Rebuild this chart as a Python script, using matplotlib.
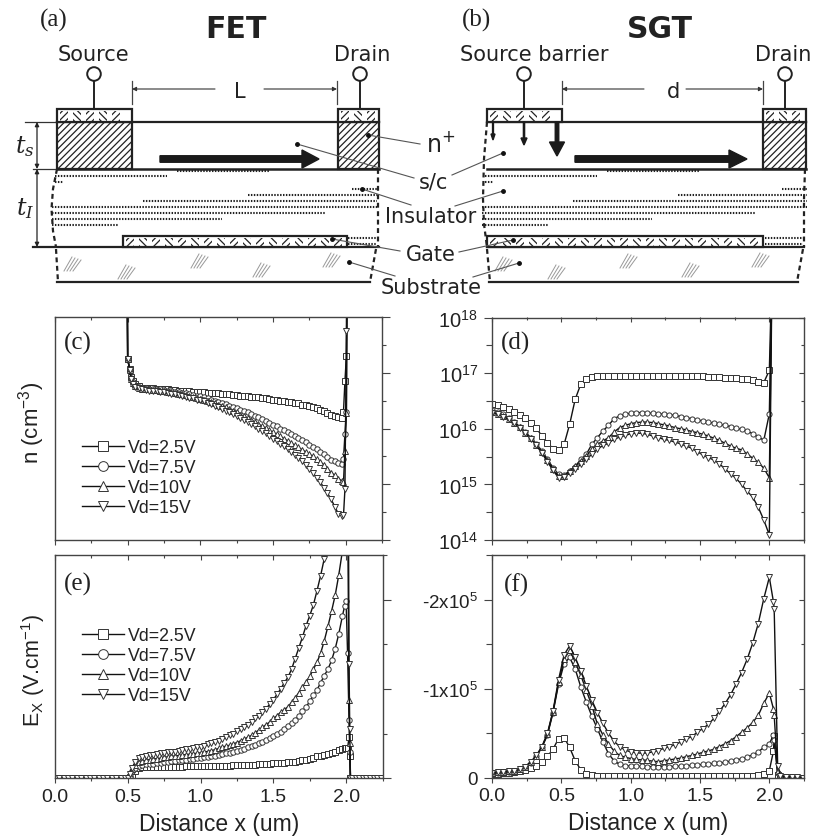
import numpy as np
import matplotlib
matplotlib.use("Agg")
import matplotlib.pyplot as plt
from matplotlib.patches import Rectangle, FancyArrow
from matplotlib.ticker import NullFormatter

plt.rcParams['font.family'] = ['Liberation Sans', 'DejaVu Sans']
plt.rcParams['mathtext.default'] = 'regular'
plt.rcParams['hatch.linewidth'] = 0.9

W, H = 815, 837
INK = "#222222"

VD_LABELS = ["Vd=2.5V", "Vd=7.5V", "Vd=10V", "Vd=15V"]
MARKERS = ["s", "o", "^", "v"]

# grid shared by panels (c) and (e), middle part in steps of 0.025 um
x_mid = [0.600, 0.625, 0.650, 0.675, 0.700, 0.725, 0.750, 0.775,
         0.800, 0.825, 0.850, 0.875, 0.900, 0.925, 0.950, 0.975,
         1.000, 1.025, 1.050, 1.075, 1.100, 1.125, 1.150, 1.175,
         1.200, 1.225, 1.250, 1.275, 1.300, 1.325, 1.350, 1.375,
         1.400, 1.425, 1.450, 1.475, 1.500, 1.525, 1.550, 1.575,
         1.600, 1.625, 1.650, 1.675, 1.700, 1.725, 1.750, 1.775,
         1.800, 1.825, 1.850, 1.875, 1.900, 1.925, 1.950, 1.975]

# panel (c): log10(n)
c_x = [0.497, 0.500, 0.514, 0.524, 0.535, 0.550, 0.575] + x_mid + [1.985, 1.995, 2.005, 2.010]
c_25 = [18.6, 17.25, 17.06, 16.92, 16.86, 16.80, 16.76,
        16.73, 16.73, 16.72, 16.72, 16.71, 16.71, 16.70, 16.70,
        16.69, 16.69, 16.68, 16.68, 16.67, 16.67, 16.66, 16.66,
        16.65, 16.65, 16.64, 16.64, 16.63, 16.63, 16.62, 16.62,
        16.61, 16.60, 16.60, 16.59, 16.58, 16.58, 16.57, 16.56,
        16.56, 16.55, 16.54, 16.53, 16.52, 16.51, 16.50, 16.49,
        16.48, 16.47, 16.46, 16.45, 16.43, 16.42, 16.40, 16.38,
        16.36, 16.34, 16.31, 16.28, 16.25, 16.22, 16.20, 16.19,
        16.30, 16.85, 17.30, 19.0]
c_75 = [18.6, 17.25, 17.06, 16.90, 16.83, 16.77, 16.74,
        16.72, 16.72, 16.71, 16.71, 16.70, 16.70, 16.69, 16.68,
        16.67, 16.66, 16.65, 16.64, 16.63, 16.62, 16.60, 16.59,
        16.58, 16.56, 16.54, 16.52, 16.50, 16.48, 16.46, 16.44,
        16.41, 16.39, 16.36, 16.34, 16.31, 16.29, 16.26, 16.23,
        16.20, 16.17, 16.14, 16.10, 16.07, 16.04, 16.00, 15.97,
        15.93, 15.90, 15.86, 15.83, 15.79, 15.75, 15.71, 15.67,
        15.63, 15.58, 15.54, 15.49, 15.44, 15.41, 15.38, 15.36,
        15.45, 15.90, 16.30, 19.0]
c_10 = [18.6, 17.25, 17.05, 16.89, 16.82, 16.76, 16.73,
        16.71, 16.70, 16.70, 16.69, 16.69, 16.68, 16.67, 16.66,
        16.65, 16.64, 16.62, 16.61, 16.60, 16.58, 16.57, 16.55,
        16.53, 16.51, 16.49, 16.47, 16.45, 16.42, 16.40, 16.38,
        16.35, 16.32, 16.29, 16.25, 16.22, 16.19, 16.15, 16.12,
        16.08, 16.04, 16.01, 15.97, 15.93, 15.90, 15.86, 15.82,
        15.78, 15.74, 15.70, 15.66, 15.62, 15.58, 15.54, 15.50,
        15.45, 15.40, 15.35, 15.28, 15.21, 15.16, 15.10, 15.06,
        15.04, 15.60, 16.27, 19.0]
c_15 = [18.6, 17.25, 17.05, 16.88, 16.80, 16.75, 16.72,
        16.70, 16.69, 16.68, 16.67, 16.67, 16.66, 16.65, 16.63,
        16.62, 16.61, 16.60, 16.58, 16.57, 16.55, 16.54, 16.52,
        16.51, 16.49, 16.46, 16.44, 16.41, 16.38, 16.35, 16.32,
        16.29, 16.26, 16.22, 16.19, 16.15, 16.12, 16.08, 16.04,
        16.00, 15.96, 15.92, 15.87, 15.82, 15.78, 15.73, 15.68,
        15.63, 15.58, 15.53, 15.47, 15.41, 15.35, 15.27, 15.20,
        15.12, 15.04, 14.94, 14.84, 14.73, 14.60, 14.47, 14.43,
        14.44, 14.91, 17.74, 19.0]

# panel (e): field magnitude in units of 1e5 V/cm
e_zero_left = [0.000, 0.030, 0.060, 0.090, 0.120, 0.150, 0.180, 0.210, 0.240, 0.270,
               0.300, 0.330, 0.360, 0.390, 0.420, 0.450, 0.480]
e_zero_right = [2.040, 2.065, 2.090, 2.115, 2.140, 2.165, 2.190, 2.215, 2.240]
e_x = e_zero_left + [0.500, 0.515, 0.530, 0.550, 0.575] + x_mid + [1.990, 2.000, 2.010, 2.020, 2.025, 2.030] + e_zero_right
e_25 = [0.0] * 17 + [0.0, 0.02, 0.04, 0.086, 0.115,
        0.122, 0.124, 0.125, 0.126, 0.127, 0.128, 0.129, 0.130,
        0.130, 0.131, 0.132, 0.132, 0.133, 0.134, 0.135, 0.135,
        0.136, 0.137, 0.138, 0.139, 0.140, 0.140, 0.141, 0.142,
        0.143, 0.144, 0.146, 0.147, 0.148, 0.150, 0.152, 0.154,
        0.156, 0.158, 0.160, 0.163, 0.166, 0.168, 0.171, 0.174,
        0.177, 0.182, 0.188, 0.194, 0.200, 0.207, 0.214, 0.222,
        0.245, 0.255, 0.265, 0.275, 0.285, 0.300, 0.315, 0.330,
        0.335, 0.335, 0.335, 0.46, 0.25, 0.0] + [0.0] * 9
e_75 = [0.0] * 17 + [0.0, 0.03, 0.08, 0.12, 0.14,
        0.150, 0.155, 0.160, 0.165, 0.170, 0.175, 0.180, 0.185,
        0.190, 0.195, 0.200, 0.205, 0.210, 0.215, 0.220, 0.225,
        0.230, 0.235, 0.240, 0.245, 0.255, 0.260, 0.270, 0.280,
        0.285, 0.300, 0.305, 0.320, 0.330, 0.345, 0.360, 0.375,
        0.390, 0.410, 0.430, 0.450, 0.475, 0.500, 0.520, 0.550,
        0.590, 0.620, 0.650, 0.700, 0.750, 0.800, 0.860, 0.930,
        0.990, 1.070, 1.150, 1.220, 1.320, 1.450, 1.620, 1.820,
        1.93, 1.98, 1.40, 0.65, 0.30, 0.0] + [0.0] * 9
e_10 = [0.0] * 17 + [0.0, 0.04, 0.10, 0.15, 0.18,
        0.190, 0.200, 0.210, 0.215, 0.220, 0.225, 0.235, 0.240,
        0.245, 0.250, 0.255, 0.260, 0.265, 0.270, 0.275, 0.280,
        0.285, 0.295, 0.300, 0.310, 0.320, 0.335, 0.350, 0.360,
        0.370, 0.385, 0.400, 0.420, 0.440, 0.460, 0.480, 0.510,
        0.540, 0.570, 0.600, 0.630, 0.670, 0.700, 0.740, 0.770,
        0.800, 0.850, 0.900, 0.960, 1.020, 1.080, 1.140, 1.220,
        1.300, 1.400, 1.540, 1.700, 1.870, 2.050, 2.280, 2.550,
        2.80, 3.00, 3.20, 0.88, 0.40, 0.0] + [0.0] * 9
e_15 = [0.0] * 17 + [0.0, 0.05, 0.12, 0.18, 0.225,
        0.240, 0.250, 0.260, 0.265, 0.275, 0.280, 0.285, 0.290,
        0.295, 0.300, 0.310, 0.315, 0.325, 0.330, 0.340, 0.350,
        0.356, 0.365, 0.380, 0.390, 0.405, 0.420, 0.440, 0.460,
        0.480, 0.500, 0.525, 0.550, 0.570, 0.600, 0.630, 0.670,
        0.700, 0.740, 0.780, 0.830, 0.880, 0.940, 1.000, 1.070,
        1.130, 1.220, 1.340, 1.460, 1.580, 1.710, 1.820, 1.940,
        2.100, 2.270, 2.460, 2.750, 3.000, 3.400, 3.800, 4.300,
        4.70, 5.20, 5.60, 1.28, 0.55, 0.0] + [0.0] * 9

# grid shared by panels (d) and (f), steps of 0.04 um
x_coarse = [0.00, 0.04, 0.08, 0.12, 0.16, 0.20, 0.24, 0.28, 0.32, 0.36,
            0.40, 0.44, 0.48, 0.52, 0.56, 0.60, 0.64, 0.68, 0.72, 0.76,
            0.80, 0.84, 0.88, 0.92, 0.96, 1.00, 1.04, 1.08, 1.12, 1.16,
            1.20, 1.24, 1.28, 1.32, 1.36, 1.40, 1.44, 1.48, 1.52, 1.56,
            1.60, 1.64, 1.68, 1.72, 1.76, 1.80, 1.84, 1.88, 1.92, 1.96,
            2.00]

# panel (d): log10(n)
d_x = x_coarse + [2.02]
d_25 = [16.45, 16.43, 16.40, 16.36, 16.31, 16.25, 16.19, 16.11, 16.01, 15.87,
        15.75, 15.64, 15.62, 15.72, 16.08, 16.53, 16.80, 16.90, 16.93, 16.94,
        16.95, 16.95, 16.95, 16.95, 16.95, 16.95, 16.95, 16.95, 16.95, 16.95,
        16.95, 16.95, 16.95, 16.95, 16.95, 16.95, 16.94, 16.94, 16.94, 16.93,
        16.93, 16.93, 16.92, 16.92, 16.91, 16.90, 16.89, 16.87, 16.84, 16.83,
        17.05, 19.0]
d_75 = [16.33, 16.30, 16.26, 16.20, 16.12, 16.04, 15.94, 15.84, 15.73, 15.60,
        15.45, 15.30, 15.18, 15.17, 15.24, 15.32, 15.45, 15.54, 15.72, 15.84,
        15.96, 16.06, 16.18, 16.23, 16.26, 16.28, 16.29, 16.29, 16.28, 16.28,
        16.27, 16.26, 16.25, 16.24, 16.22, 16.20, 16.18, 16.16, 16.14, 16.12,
        16.10, 16.08, 16.06, 16.04, 16.01, 15.99, 15.96, 15.91, 15.86, 15.79,
        16.27, 19.0]
d_10 = [16.30, 16.27, 16.23, 16.18, 16.11, 16.03, 15.93, 15.83, 15.71, 15.58,
        15.43, 15.27, 15.15, 15.15, 15.24, 15.33, 15.42, 15.51, 15.63, 15.72,
        15.78, 15.84, 15.94, 16.02, 16.06, 16.09, 16.11, 16.12, 16.12, 16.11,
        16.09, 16.07, 16.05, 16.02, 16.00, 15.98, 15.95, 15.93, 15.90, 15.87,
        15.83, 15.79, 15.74, 15.69, 15.65, 15.62, 15.55, 15.47, 15.40, 15.29,
        15.12, 19.0]
d_15 = [16.29, 16.26, 16.22, 16.17, 16.10, 16.02, 15.92, 15.82, 15.70, 15.56,
        15.41, 15.25, 15.12, 15.13, 15.21, 15.27, 15.36, 15.45, 15.54, 15.63,
        15.70, 15.75, 15.81, 15.85, 15.88, 15.91, 15.92, 15.92, 15.90, 15.87,
        15.84, 15.81, 15.79, 15.76, 15.73, 15.69, 15.65, 15.59, 15.53, 15.48,
        15.44, 15.37, 15.28, 15.19, 15.11, 15.00, 14.88, 14.77, 14.59, 14.36,
        14.09, 19.0]

# panel (f): field magnitude in units of 1e5 V/cm
f_x = x_coarse + [2.03, 2.035, 2.06, 2.08, 2.12, 2.16, 2.20, 2.24]
f_25 = [0.040, 0.045, 0.050, 0.055, 0.060, 0.070, 0.085, 0.105, 0.130, 0.180,
        0.240, 0.320, 0.440, 0.450, 0.340, 0.190, 0.090, 0.040, 0.030, 0.022,
        0.020, 0.020, 0.020, 0.020, 0.020, 0.020, 0.020, 0.020, 0.020, 0.020,
        0.020, 0.020, 0.020, 0.020, 0.020, 0.020, 0.020, 0.020, 0.020, 0.020,
        0.020, 0.020, 0.020, 0.020, 0.020, 0.020, 0.020, 0.022, 0.030, 0.040,
        0.080, 0.30, 0.47, 0.03, 0.01, 0.005, 0.005, 0.0, 0.0]
f_75 = [0.050, 0.055, 0.060, 0.065, 0.075, 0.095, 0.120, 0.170, 0.240, 0.340,
        0.480, 0.730, 1.050, 1.280, 1.350, 1.220, 1.020, 0.850, 0.690, 0.550,
        0.400, 0.270, 0.190, 0.150, 0.135, 0.130, 0.128, 0.126, 0.125, 0.125,
        0.125, 0.125, 0.125, 0.127, 0.130, 0.135, 0.139, 0.142, 0.150, 0.155,
        0.160, 0.165, 0.172, 0.187, 0.200, 0.210, 0.235, 0.255, 0.290, 0.340,
        0.380, 0.48, 0.42, 0.05, 0.01, 0.005, 0.005, 0.0, 0.0]
f_10 = [0.050, 0.060, 0.065, 0.070, 0.080, 0.100, 0.125, 0.175, 0.245, 0.345,
        0.490, 0.740, 1.070, 1.330, 1.430, 1.300, 1.150, 0.980, 0.810, 0.600,
        0.480, 0.380, 0.300, 0.250, 0.230, 0.215, 0.205, 0.200, 0.195, 0.185,
        0.180, 0.190, 0.200, 0.210, 0.220, 0.235, 0.250, 0.265, 0.285, 0.300,
        0.320, 0.350, 0.380, 0.415, 0.460, 0.510, 0.560, 0.620, 0.700, 0.835,
        0.950, 0.77, 0.70, 0.08, 0.01, 0.005, 0.005, 0.0, 0.0]
f_15 = [0.050, 0.060, 0.065, 0.070, 0.080, 0.100, 0.125, 0.180, 0.250, 0.350,
        0.500, 0.750, 1.100, 1.380, 1.480, 1.350, 1.200, 1.030, 0.870, 0.730,
        0.610, 0.500, 0.410, 0.350, 0.310, 0.290, 0.280, 0.275, 0.277, 0.290,
        0.305, 0.330, 0.350, 0.370, 0.400, 0.435, 0.460, 0.510, 0.550, 0.600,
        0.665, 0.745, 0.830, 0.930, 1.050, 1.180, 1.330, 1.510, 1.730, 2.010,
        2.250, 1.97, 1.89, 0.135, 0.02, 0.01, 0.01, 0.005, 0.0]

x_major = [0.0, 0.5, 1.0, 1.5, 2.0]
x_minor = [0.25, 0.75, 1.25, 1.75, 2.25]
x_tick_labels = ["0.0", "0.5", "1.0", "1.5", "2.0"]
n_major = [1e14, 1e15, 1e16, 1e17, 1e18]
n_minor = [10**14.5, 10**15.5, 10**16.5, 10**17.5]
n_tick_labels = ["$10^{14}$", "$10^{15}$", "$10^{16}$", "$10^{17}$", "$10^{18}$"]
ex_major = [0, -1e5, -2e5]
ex_minor = [-0.5e5, -1.5e5, -2.5e5]
ex_tick_labels = ["0", "-1x10$^5$", "-2x10$^5$"]


def axes_px(left, top, right, bottom):
    return fig.add_axes([left / W, 1 - bottom / H, (right - left) / W, (bottom - top) / H])


def draw_series(ax, x, series, scale, ms=3.4):
    lines = []
    for values, marker, label in zip(series, MARKERS, VD_LABELS):
        [line] = ax.plot(x, np.asarray(scale(np.array(values))), color="#111111", lw=1.0,
                         marker=marker, ms=ms, mfc="white", mec="#333333", mew=0.7,
                         label=label, clip_on=True)
        lines.append(line)
    return lines


def style_axes(ax, y_major, y_minor, y_labels, outer_right):
    for spine in ax.spines.values():
        spine.set_color("#444444")
        spine.set_linewidth(1.0)
    ax.set_xlim(0, 2.25)
    ax.set_xticks(x_major)
    ax.set_xticks(x_minor, minor=True)
    ax.tick_params(axis='x', which='major', direction='out', length=3.5, width=0.8, color="#444444",
                   labelbottom=False)
    ax.tick_params(axis='x', which='minor', direction='out', length=2.5, width=0.8, color="#444444")

    top = ax.secondary_xaxis('top')
    top.set_xticks(x_major)
    top.set_xticks(x_minor, minor=True)
    top.tick_params(which='major', direction='in', length=3.5, width=0.8, color="#444444", labeltop=False)
    top.tick_params(which='minor', direction='in', length=2.5, width=0.8, color="#444444")
    top.spines['top'].set_visible(False)

    ax.set_yticks(y_major)
    ax.set_yticks(y_minor, minor=True)
    ax.yaxis.set_minor_formatter(NullFormatter())
    right = ax.secondary_yaxis('right')
    right.set_yticks(y_major)
    right.set_yticks(y_minor, minor=True)
    right.yaxis.set_minor_formatter(NullFormatter())
    right.spines['right'].set_visible(False)
    if outer_right:
        ax.tick_params(axis='y', which='both', left=False, labelleft=False)
        right.tick_params(which='major', direction='out', length=6, width=0.8, color="#444444", labelright=False)
        right.tick_params(which='minor', direction='out', length=3, width=0.8, color="#444444")
    else:
        ax.tick_params(axis='y', which='major', direction='out', length=6, width=0.8, color="#444444",
                       labelsize=14.5, labelcolor=INK, pad=4)
        ax.tick_params(axis='y', which='minor', direction='out', length=4, width=0.8, color="#444444")
        ax.set_yticklabels(y_labels)
        right.tick_params(which='major', direction='in', length=3.5, width=0.8, color="#444444", labelright=False)
        right.tick_params(which='minor', direction='in', length=2.5, width=0.8, color="#444444")


def add_legend(ax, lines, top_px):
    ax.legend(lines, VD_LABELS, loc='upper left', frameon=False, fontsize=12.8, labelcolor=INK,
              markerscale=1.8, handlelength=2.35, handletextpad=0.25, labelspacing=0.17,
              borderpad=0, borderaxespad=0,
              bbox_to_anchor=(82 / W, 1 - top_px / H), bbox_transform=fig.transFigure)


def hatch_bar(ax, left, top, right, bottom, step=13):
    # contact or gate: white bar with short alternating hatch patches
    ax.add_patch(Rectangle((left, top), right - left, bottom - top, fc="white", ec="#222222", lw=1.6, zorder=3))
    pos = left + 3
    i = 0
    while pos + 8 < right:
        hatch = '/////' if i % 2 == 0 else '\\\\\\\\\\'
        ax.add_patch(Rectangle((pos, top + 1.5), 8, bottom - top - 3, fc="none", ec="#222222", lw=0,
                               hatch=hatch, zorder=3))
        pos += step
        i += 1


def doped_block(ax, left, top, right, bottom):
    ax.add_patch(Rectangle((left, top), right - left, bottom - top, fc="white", ec="#222222", lw=1.6,
                           hatch='/////', zorder=3))


def dotted_rows(ax, rows, shift):
    for y, x0, x1 in rows:
        ax.plot([x0 + shift, x1 + shift], [y, y], color="#222222", lw=1.5, ls=(0, (0.7, 0.7)), zorder=2)


def substrate_marks(ax, spots):
    for x0, y0 in spots:
        for k in range(4):
            ax.plot([x0 + k * 3, x0 + k * 3 + 8], [y0 + 8, y0 - 6 + k], color="#999999", lw=0.7, zorder=2)


def terminal(ax, x):
    ax.add_patch(plt.Circle((x, 75), 6.8, fc="white", ec="#222222", lw=1.4, zorder=4))
    ax.plot([x, x], [82, 110], color="#222222", lw=1.4, zorder=2)


def length_marker(ax, x0, x1, x2, x3, label, label_x):
    ax.plot([x0, x0], [82, 105], color="#444444", lw=0.9)
    ax.plot([x3, x3], [82, 105], color="#444444", lw=0.9)
    for a, b in [(x1, x0), (x2, x3)]:
        ax.annotate("", xy=(b, 90), xytext=(a, 90),
                    arrowprops=dict(arrowstyle='-|>', color="#333333", lw=0.8, mutation_scale=6, shrinkA=0, shrinkB=0))
    ax.text(label_x, 92, label, ha='center', va='center', fontsize=15, family='DejaVu Sans', color=INK)


def leader(ax, x0, y0, x1, y1):
    ax.plot([x0, x1], [y0, y1], color="#555555", lw=0.8, zorder=5)
    ax.plot([x0], [y0], 'o', color="#111111", ms=2.5, zorder=5)


def draw_schematics(ax):
    rows_a = [(172, 177, 270), (177, 55, 167), (183, 55, 63), (190, 352, 377), (196, 248, 377),
              (201.5, 143, 377), (207.5, 52, 377), (214, 52, 325), (220, 52, 222), (226, 52, 118)]
    dotted_rows(ax, rows_a, 0)
    dotted_rows(ax, rows_a, 430)

    # (a) FET
    ax.plot([57, 379], [123, 123], color="#222222", lw=1.6, zorder=2)
    ax.plot([57, 379], [170, 170], color="#222222", lw=1.8, zorder=2)
    ax.plot([33, 379], [248, 248], color="#222222", lw=1.6, zorder=2)
    ax.plot([57, 370], [283, 283], color="#222222", lw=1.6, zorder=2)
    doped_block(ax, 57, 123, 132, 170)
    doped_block(ax, 338, 123, 379, 170)
    hatch_bar(ax, 57, 110, 132, 123)
    hatch_bar(ax, 338, 110, 379, 123)
    hatch_bar(ax, 123, 237, 347, 248)
    dotted_rows(ax, [(239, 348, 377), (245, 348, 377)], 0)
    terminal(ax, 94)
    terminal(ax, 360)
    length_marker(ax, 132, 215, 264, 337, "L", 240)
    ax.add_patch(FancyArrow(160, 160, 159, 0, width=6.5, head_width=18, head_length=17,
                            length_includes_head=True, color="#1a1a1a", zorder=4))
    dash = dict(color="#222222", lw=1.6, ls=(0, (2.2, 1.6)), zorder=2)
    ax.plot([57, 53, 51.5, 53, 56], [170, 190, 210, 232, 248], **dash)
    ax.plot([378, 378], [170, 248], **dash)
    ax.plot([56, 58], [250, 283], **dash)
    ax.plot([376, 370], [250, 283], **dash)
    substrate_marks(ax, [(64, 264), (118, 272), (191, 261), (253, 270), (323, 260)])

    # t_s / t_I dimension marks
    ax.plot([25, 56], [123, 123], color="#333333", lw=0.9)
    ax.plot([33, 56], [170, 170], color="#333333", lw=0.9)
    for y0, y1 in [(123, 170), (170, 248)]:
        ax.annotate("", xy=(37, y1), xytext=(37, y0),
                    arrowprops=dict(arrowstyle='<|-|>', color="#222222", lw=0.9, mutation_scale=6, shrinkA=0, shrinkB=0))
    ax.text(25, 147, "$\\mathit{t_s}$", ha='center', va='center', fontsize=17, color=INK,
            math_fontfamily='dejavuserif')
    ax.text(25, 209, "$\\mathit{t_I}$", ha='center', va='center', fontsize=17, color=INK,
            math_fontfamily='dejavuserif')

    # (b) SGT
    ax.plot([487, 806], [123, 123], color="#222222", lw=1.6, zorder=2)
    ax.plot([487, 806], [170, 170], color="#222222", lw=1.8, zorder=2)
    ax.plot([487, 804], [248, 248], color="#222222", lw=1.6, zorder=2)
    ax.plot([489, 798], [283, 283], color="#222222", lw=1.6, zorder=2)
    doped_block(ax, 763, 123, 806, 170)
    hatch_bar(ax, 487, 110, 562, 123)
    hatch_bar(ax, 763, 110, 806, 123)
    hatch_bar(ax, 487, 237, 763, 248)
    dotted_rows(ax, [(239, 765, 803), (245, 765, 803)], 0)
    terminal(ax, 524)
    terminal(ax, 785)
    length_marker(ax, 562, 644, 686, 763, "d", 674)
    ax.add_patch(FancyArrow(575, 160, 172, 0, width=6.5, head_width=18, head_length=18,
                            length_includes_head=True, color="#1a1a1a", zorder=4))
    ax.plot([487, 484, 483, 484, 487], [123, 160, 200, 225, 248], **dash)
    ax.plot([805, 804, 804], [170, 200, 248], **dash)
    ax.plot([487, 490], [250, 283], **dash)
    ax.plot([803, 797], [250, 283], **dash)
    for x0, y1, w, hw, hl in [(493, 141, 0.9, 4, 6), (524, 146, 1.2, 6, 7), (557, 157, 3.5, 15, 14)]:
        ax.add_patch(FancyArrow(x0, 123, 0, y1 - 123, width=w, head_width=hw, head_length=hl,
                                length_includes_head=True, color="#1a1a1a", zorder=4))
    substrate_marks(ax, [(495, 264), (548, 272), (620, 261), (682, 270), (752, 260)])

    # leaders from both devices to the shared labels
    leader(ax, 368, 136, 420, 145)
    leader(ax, 297, 145, 414, 179)
    leader(ax, 503, 154, 452, 176)
    leader(ax, 362, 190, 411, 206)
    leader(ax, 503, 192, 455, 207)
    leader(ax, 332, 240, 400, 252)
    leader(ax, 513, 241, 459, 253)
    leader(ax, 349, 263, 395, 277)
    leader(ax, 519, 264, 473, 278)


fig = plt.figure(figsize=(W / 100, H / 100), dpi=100)

sketch = fig.add_axes([0, 0, 1, 1], zorder=0)
sketch.set_xlim(0, W)
sketch.set_ylim(H, 0)
sketch.axis('off')
draw_schematics(sketch)

to_density = lambda v: 10.0 ** v
to_field = lambda v: -1e5 * v

ax_c = axes_px(55, 318, 382, 541)
ax_d = axes_px(492, 318.5, 804, 541)
ax_e = axes_px(55, 556, 382.5, 779.3)
ax_f = axes_px(492, 556, 804, 778.7)
for ax in (ax_c, ax_d, ax_e, ax_f):
    ax.patch.set_alpha(0)

lines_c = draw_series(ax_c, c_x, [c_25, c_75, c_10, c_15], to_density, ms=3.9)
draw_series(ax_d, d_x, [d_25, d_75, d_10, d_15], to_density, ms=3.7)
lines_e = draw_series(ax_e, e_x, [e_25, e_75, e_10, e_15], to_field, ms=3.9)
draw_series(ax_f, f_x, [f_25, f_75, f_10, f_15], to_field, ms=3.7)

for ax in (ax_c, ax_d):
    ax.set_yscale('log')
    ax.set_ylim(1e14, 1e18)
for ax in (ax_e, ax_f):
    ax.set_ylim(0, -2.5e5)

style_axes(ax_c, n_major, n_minor, n_tick_labels, True)
style_axes(ax_d, n_major, n_minor, n_tick_labels, False)
style_axes(ax_e, ex_major, ex_minor, ex_tick_labels, True)
style_axes(ax_f, ex_major, ex_minor, ex_tick_labels, False)

for ax in (ax_e, ax_f):
    ax.tick_params(axis='x', which='major', labelbottom=True, labelsize=14, labelcolor=INK, pad=3.5)
    ax.set_xticklabels(x_tick_labels)
    ax.set_xlabel("Distance x (um)", fontsize=16.5, color=INK, labelpad=5)
ax_f.tick_params(axis='y', which='major', labelsize=13.5)

add_legend(ax_c, lines_c, 440)
add_legend(ax_e, lines_e, 628)


def px_text(x, y, s, **kw):
    fig.text(x / W, 1 - y / H, s, color=INK, **kw)


serif = dict(family='Liberation Serif', fontsize=18, va='center', ha='left')
px_text(40, 20, "(a)", **serif)
px_text(462, 20, "(b)", **serif)
px_text(64, 343, "(c)", **serif)
px_text(501, 343, "(d)", **serif)
px_text(64, 584, "(e)", **serif)
px_text(504, 585, "(f)", **serif)

head = dict(family='DejaVu Sans', fontweight='bold', fontsize=21.5, ha='center', va='center')
px_text(236, 30, "FET", **head)
px_text(660, 30, "SGT", **head)

label = dict(family='DejaVu Sans', fontsize=15, ha='center', va='center')
px_text(93, 55, "Source", **label)
px_text(362, 55, "Drain", **label)
px_text(534, 55, "Source barrier", **label)
px_text(783, 55, "Drain", **label)
px_text(441, 144, "n$^{+}$", family='DejaVu Sans', fontsize=17, ha='center', va='center')
px_text(433, 182, "s/c", **label)
px_text(431, 217, "Insulator", **label)
px_text(431, 255, "Gate", **label)
px_text(431, 288, "Substrate", **label)

ylabel = dict(fontsize=16, rotation=90, ha='center', va='center')
px_text(32, 423, "n (cm$^{-3}$)", **ylabel)
px_text(33, 670, "E$_{X}$ (V.cm$^{-1}$)", fontsize=15.5, rotation=90, ha='center', va='center')

fig.savefig("out.png", dpi=100)
